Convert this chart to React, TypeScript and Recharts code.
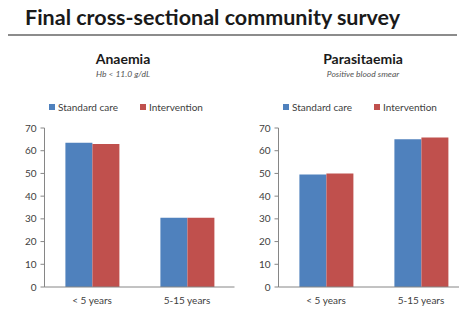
import { BarChart, Bar, XAxis, YAxis } from "recharts";

const categories = ["< 5 years", "5-15 years"];
const seriesNames = ["Standard care", "Intervention"];
const yTicks = [0, 10, 20, 30, 40, 50, 60, 70];

// Anaemia (Hb < 11.0 g/dL), %
const anaemiaStandard = [63.5, 30.5];
const anaemiaIntervention = [63, 30.5];

// Parasitaemia (positive blood smear), %
const parasitStandard = [49.5, 65];
const parasitIntervention = [50, 65.8];

const BLUE = "#4F81BD";
const RED = "#C0504D";
const FONT = "Lato, 'Open Sans', sans-serif";

function rows(a: number[], b: number[]) {
  return categories.map((c, i) => ({ cat: c, standard: a[i], intervention: b[i] }));
}

function MiniLegend({ left }: { left: number }) {
  return (
    <div
      style={{
        position: "absolute",
        left,
        top: 101,
        display: "flex",
        gap: 22,
        fontSize: 10,
        color: "#404040",
        whiteSpace: "nowrap",
      }}
    >
      {seriesNames.map((n, i) => (
        <div key={n} style={{ display: "flex", alignItems: "center", gap: 3 }}>
          <span style={{ width: 6, height: 6, background: i === 0 ? BLUE : RED, display: "inline-block" }} />
          <span>{n}</span>
        </div>
      ))}
    </div>
  );
}

function Panel({ data, left, width, marginLeft, marginRight }: any) {
  return (
    <div style={{ position: "absolute", left, top: 0 }}>
      <BarChart
        width={width}
        height={310}
        data={data}
        margin={{ top: 128, right: marginRight, bottom: 0, left: marginLeft }}
        barGap={0}
        barCategoryGap="22%"
      >
        <XAxis
          dataKey="cat"
          height={23}
          tickLine={false}
          axisLine={{ stroke: "#868686" }}
          tick={{ fontSize: 10, fill: "#404040", fontFamily: FONT }}
          tickMargin={4}
          interval={0}
        />
        <YAxis
          width={36}
          domain={[0, 70]}
          ticks={yTicks}
          interval={0}
          tickSize={4}
          tickMargin={4}
          axisLine={{ stroke: "#868686" }}
          tickLine={{ stroke: "#868686" }}
          tick={{ fontSize: 10, fill: "#404040", fontFamily: FONT }}
        />
        <Bar dataKey="standard" name={seriesNames[0]} fill={BLUE} isAnimationActive={false} />
        <Bar dataKey="intervention" name={seriesNames[1]} fill={RED} isAnimationActive={false} />
      </BarChart>
    </div>
  );
}

export default function App() {
  return (
    <div
      style={{
        position: "absolute",
        left: 0,
        top: 0,
        width: 459,
        height: 310,
        overflow: "hidden",
        background: "#fff",
        fontFamily: FONT,
      }}
    >
      <div
        style={{
          position: "absolute",
          left: 25,
          top: 4,
          fontSize: 21.5,
          fontWeight: 700,
          color: "#1a1a1a",
          whiteSpace: "nowrap",
        }}
      >
        Final cross-sectional community survey
      </div>
      <div style={{ position: "absolute", left: 8, top: 34, width: 449, height: 2, background: "#8c8c8c" }} />

      <div style={{ position: "absolute", left: 43, width: 160, top: 50, textAlign: "center" }}>
        <div style={{ fontSize: 14, fontWeight: 700, color: "#1a1a1a", lineHeight: "18px" }}>Anaemia</div>
        <div style={{ fontSize: 8.5, fontStyle: "italic", color: "#555", lineHeight: "12px" }}>Hb &lt; 11.0 g/dL</div>
      </div>
      <div style={{ position: "absolute", left: 283, width: 160, top: 50, textAlign: "center" }}>
        <div style={{ fontSize: 14, fontWeight: 700, color: "#1a1a1a", lineHeight: "18px" }}>Parasitaemia</div>
        <div style={{ fontSize: 8.5, fontStyle: "italic", color: "#555", lineHeight: "12px" }}>Positive blood smear</div>
      </div>

      <MiniLegend left={49} />
      <MiniLegend left={283} />

      <Panel data={rows(anaemiaStandard, anaemiaIntervention)} left={0} width={262} marginLeft={8.5} marginRight={27.5} />
      <Panel data={rows(parasitStandard, parasitIntervention)} left={229} width={250} marginLeft={13.5} marginRight={10.5} />
    </div>
  );
}
